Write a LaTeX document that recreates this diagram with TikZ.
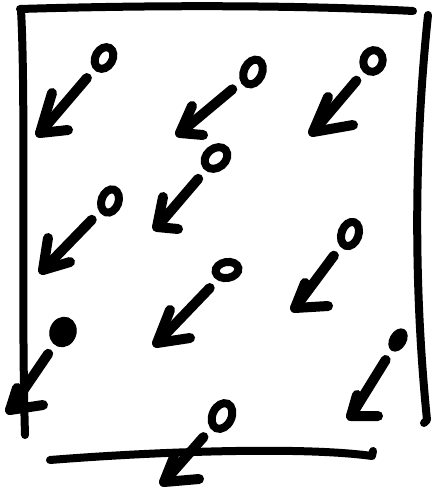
\documentclass[tikz,border=0pt]{standalone}
\usetikzlibrary{shapes.geometric}
\begin{document}
\begin{tikzpicture}[x=1pt,y=-1pt,
  frame/.style={line width=8pt, line cap=round, line join=round},
  ring/.style={ellipse, draw, line width=8pt, inner sep=0pt},
  blob/.style={ellipse, fill, draw, line width=1pt, inner sep=0pt},
  shaft/.style={line width=10pt, line cap=round, shorten <=11pt},
  head/.style={line width=10pt, line cap=round, line join=round}]
\useasboundingbox (0,0) rectangle (437,498);
% frame
\draw[frame] (20,9) .. controls (150,5) and (300,5) .. (413,11);
\draw[frame] (21,10) .. controls (26,100) and (21,300) .. (25,435);
\draw[frame] (428,15) .. controls (417,120) and (411,260) .. (427,420) -- (424,423);
\draw[frame] (50,460) .. controls (150,452) and (300,446) .. (372,456) -- (373,451);
% tails
\node[ring, minimum width=17pt, minimum height=23pt, rotate=-30] (c1) at (104,58) {};
\node[ring, minimum width=18pt, minimum height=26pt, rotate=-25] (c2) at (253,72) {};
\node[ring, minimum width=19pt, minimum height=22pt, rotate=-20] (c3) at (373,61) {};
\node[ring, minimum width=19pt, minimum height=25pt, rotate=-50] (c4) at (216,158) {};
\node[ring, minimum width=17pt, minimum height=24pt, rotate=-20] (c5) at (110,201) {};
\node[ring, minimum width=17pt, minimum height=25pt, rotate=-20] (c6) at (350,234) {};
\node[ring, minimum width=23pt, minimum height=16pt, rotate=10] (c7) at (227,270) {};
\node[blob, minimum width=26pt, minimum height=30pt, rotate=-20] (c8) at (63,332) {};
\node[blob, minimum width=16pt, minimum height=24pt, rotate=-30] (c9) at (398,340) {};
\node[ring, minimum width=19pt, minimum height=27pt, rotate=-25] (c10) at (222,416) {};
% tips
\coordinate (t1) at (40,133);
\coordinate (t2) at (180,133);
\coordinate (t3) at (313,132);
\coordinate (t4) at (157,227);
\coordinate (t5) at (43,270);
\coordinate (t6) at (295,308);
\coordinate (t7) at (157,343);
\coordinate (t8) at (10,410);
\coordinate (t9) at (351,416);
\coordinate (t10) at (164,482);
% shafts
\foreach \i in {1,...,10} \draw[shaft] (c\i) -- (t\i);
% heads
\draw[head] (t1) ++(12,-40) -- (t1) -- ++(28,-3);
\draw[head] (t2) ++(12,-27) -- (t2) -- ++(23,2);
\draw[head] (t3) ++(15,-35) -- (t3) -- ++(40,-7);
\draw[head] (t4) ++(6,-30) -- (t4) -- ++(21,2);
\draw[head] (t5) ++(5,-32) -- (t5) -- ++(27,-8);
\draw[head] (t6) ++(10,-25) -- (t6) -- ++(33,-2);
\draw[head] (t7) ++(13,-33) -- (t7) -- ++(33,-5);
\draw[head] (t8) ++(7,-22) -- (t8) -- ++(33,-5);
\draw[head] (t9) ++(6,-21) -- (t9) -- ++(27,0);
\draw[head] (t10) ++(10,-25) -- (t10) -- ++(35,-3);
\end{tikzpicture}
\end{document}
